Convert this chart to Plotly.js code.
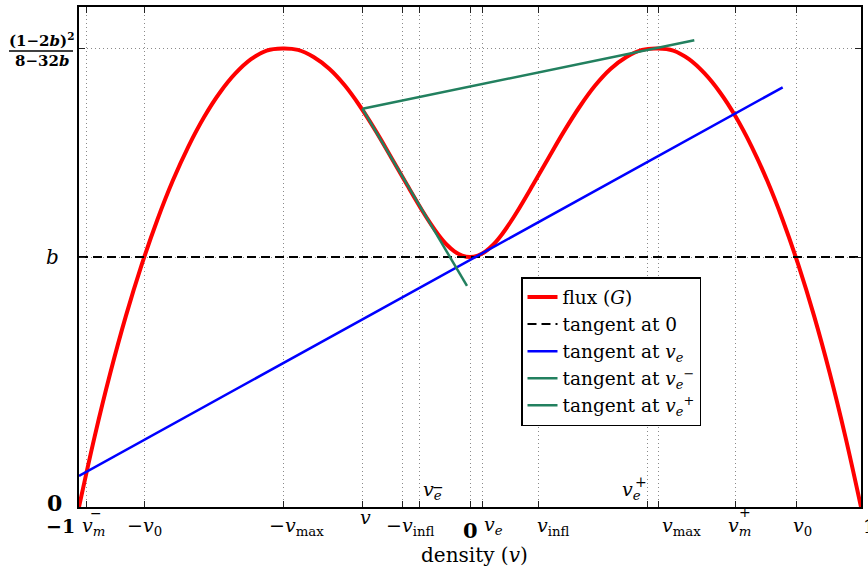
<!DOCTYPE html>
<html>
<head>
<meta charset="utf-8">
<script src="https://cdn.plot.ly/plotly-3.0.1.min.js"></script>
<style>html,body{margin:0;padding:0;background:#fff;}#chart{width:868px;height:568px;}</style>
</head>
<body>
<div id="chart"></div>
<script>
// ---- data ----
const fluxV = [-1, -0.96, -0.92, -0.88, -0.84, -0.80, -0.76, -0.72, -0.68, -0.64, -0.60, -0.56, -0.52,
  -0.48, -0.44, -0.40, -0.36, -0.32, -0.28, -0.24, -0.20, -0.16, -0.12, -0.10, -0.08, -0.06, -0.04, -0.02,
  0, 0.02, 0.04, 0.06, 0.08, 0.10, 0.12, 0.16, 0.20, 0.24, 0.28, 0.32, 0.36, 0.40, 0.44,
  0.48, 0.52, 0.56, 0.60, 0.64, 0.68, 0.72, 0.76, 0.80, 0.84, 0.88, 0.92, 0.96, 1];
const fluxG = [0, 0.0197, 0.0375, 0.0535, 0.0677, 0.0803, 0.0914, 0.1010, 0.1092, 0.1160, 0.1214, 0.1254, 0.1278,
  0.1284, 0.1280, 0.1260, 0.1227, 0.1180, 0.1120, 0.1051, 0.0976, 0.0900, 0.0826, 0.0792, 0.0761, 0.0735, 0.0716, 0.0704,
  0.0700, 0.0704, 0.0716, 0.0735, 0.0761, 0.0792, 0.0826, 0.0900, 0.0976, 0.1051, 0.1120, 0.1180, 0.1227, 0.1260, 0.1280,
  0.1284, 0.1278, 0.1254, 0.1214, 0.1160, 0.1092, 0.1010, 0.0914, 0.0803, 0.0677, 0.0535, 0.0375, 0.0197, 0];
const tan0V = [-1, 1], tan0G = [0.07, 0.07];
const tanEV = [-1, 0.7997], tanEG = [0.0087, 0.1175];
const tanEmV = [-0.275, -0.0077], tanEmG = [0.1115, 0.0619];
const tanEpV = [-0.275, 0.5737], tanEpG = [0.1115, 0.1307];

const xTickVals = [-0.98, -0.833, -0.478, -0.275, -0.173, -0.13, 0, 0.031, 0.175, 0.455, 0.481, 0.678, 0.836];
const xLabelVals = [-1, -0.98, -0.833, -0.478, -0.275, -0.173, 0, 0.031, 0.175, 0.481, 0.678, 0.836, 1];
const xLabelTexts = ['<b>−1</b>', '<i>v</i><sub><i>m</i></sub>', '−<i>v</i><sub>0</sub>',
  '−<i>v</i><sub>max</sub>', '<i>v</i>', '−<i>v</i><sub>infl</sub>', '<b>0</b>', '<i>v<sub>e</sub></i>',
  '<i>v</i><sub>infl</sub>', '<i>v</i><sub>max</sub>', '<i>v</i><sub><i>m</i></sub>', '<i>v</i><sub>0</sub>', '<b>1</b>'];
const xLabelSups = ['', '−', '', '', '', '', '', '', '', '', '+', '', ''];
const xUpperVals = [-0.13, 0.455];
const xUpperTexts = ['<i>v</i><sub><i>e</i></sub>', '<i>v</i><sub><i>e</i></sub>'];
const xUpperSups = ['−', '+'];
const yTickVals = [0, 0.07, 0.1284];
const yLabelTexts = ['<b>0</b>', '<i>b</i>'];
const fracNum = '<b>(1−2<i>b</i>)<sup>2</sup></b>';
const fracDen = '<b>8−32<i>b</i></b>';
const xTitle = 'density (<i>v</i>)';
const legendNames = ['flux (<i>G</i>)', 'tangent at 0', 'tangent at <i>v<sub>e</sub></i>',
  'tangent at <i>v</i><sub><i>e</i></sub><sup>−</sup>', 'tangent at <i>v</i><sub><i>e</i></sub><sup>+</sup>'];

// ---- styling ----
const FONT = 'DejaVu Serif';
const green = '#22805f';
const L = 79, T = 7, W = 782, H = 500;
const pxX = p => (p - L) / W;
const pxY = p => (T + H - p) / H;

const traces = [
  {x: fluxV, y: fluxG, mode: 'lines', name: legendNames[0], line: {color: '#ff0000', width: 4, shape: 'spline', smoothing: 1}},
  {x: tan0V, y: tan0G, mode: 'lines', name: legendNames[1], line: {color: '#000', width: 2, dash: '9px,5px'}},
  {x: tanEV, y: tanEG, mode: 'lines', name: legendNames[2], line: {color: '#0000ff', width: 2.5}},
  {x: tanEmV, y: tanEmG, mode: 'lines', name: legendNames[3], line: {color: green, width: 2.5}},
  {x: tanEpV, y: tanEpG, mode: 'lines', name: legendNames[4], line: {color: green, width: 2.5}}
];

// per-label placement (style)
const lowStyle = [
  {xa: 'right', dx: -2, dy: -6, size: 19},
  {xa: 'left', dx: -7, dy: -5, size: 19, sdx: 9, sdy: -6},
  {xa: 'center', dx: 0, dy: -5, size: 19},
  {xa: 'center', dx: 13, dy: -5, size: 19},
  {xa: 'center', dx: 3, dy: 3, size: 19},
  {xa: 'center', dx: 8, dy: -5, size: 19},
  {xa: 'center', dx: 0, dy: -9, size: 21},
  {xa: 'center', dx: 11, dy: -4, size: 19},
  {xa: 'center', dx: 15, dy: -5, size: 19},
  {xa: 'center', dx: 23, dy: -5, size: 19},
  {xa: 'center', dx: 4, dy: -5, size: 19, sdx: 10, sdy: -5},
  {xa: 'center', dx: 6, dy: -5, size: 19},
  {xa: 'left', dx: 0, dy: -6, size: 19}
];
const annotations = [];
const txt = (o) => Object.assign({showarrow: false, font: {family: FONT, size: 19, color: '#000'}}, o);
xLabelVals.forEach((v, i) => {
  const s = lowStyle[i];
  annotations.push(txt({x: v, xref: 'x', y: 0, yref: 'paper', text: xLabelTexts[i],
    xanchor: s.xa, yanchor: 'top', xshift: s.dx, yshift: s.dy, font: {family: FONT, size: s.size, color: '#000'}}));
  if (xLabelSups[i]) {
    annotations.push(txt({x: v, xref: 'x', y: 0, yref: 'paper', text: xLabelSups[i],
      xanchor: 'center', yanchor: 'middle', xshift: s.sdx, yshift: s.sdy, font: {family: FONT, size: 14, color: '#000'}}));
  }
});
const upStyle = [{xa: 'left', dx: 2, sdx: 19, sdy: 20}, {xa: 'right', dx: -5, sdx: -7, sdy: 25}];
xUpperVals.forEach((v, i) => {
  const s = upStyle[i];
  annotations.push(txt({x: v, xref: 'x', y: 0, yref: 'paper', text: xUpperTexts[i],
    xanchor: s.xa, yanchor: 'bottom', xshift: s.dx, yshift: 2}));
  annotations.push(txt({x: v, xref: 'x', y: 0, yref: 'paper', text: xUpperSups[i],
    xanchor: 'center', yanchor: 'middle', xshift: s.sdx, yshift: s.sdy, font: {family: FONT, size: 14, color: '#000'}}));
});
annotations.push(txt({x: 0, xref: 'paper', y: yTickVals[0], yref: 'y', text: yLabelTexts[0],
  xanchor: 'right', yanchor: 'middle', xshift: -15, yshift: 4, font: {family: FONT, size: 22, color: '#000'}}));
annotations.push(txt({x: 0, xref: 'paper', y: yTickVals[1], yref: 'y', text: yLabelTexts[1],
  xanchor: 'right', yanchor: 'middle', xshift: -18, yshift: 0, font: {family: FONT, size: 20, color: '#000'}}));
annotations.push(txt({x: pxX(41), xref: 'paper', y: pxY(40), yref: 'paper', text: fracNum,
  xanchor: 'center', yanchor: 'middle', font: {family: FONT, size: 15, color: '#000'}}));
annotations.push(txt({x: pxX(42), xref: 'paper', y: pxY(61), yref: 'paper', text: fracDen,
  xanchor: 'center', yanchor: 'middle', font: {family: FONT, size: 15, color: '#000'}}));
annotations.push(txt({x: 0.5, xref: 'paper', y: pxY(555), yref: 'paper', text: xTitle,
  xanchor: 'center', yanchor: 'middle', xshift: 4, font: {family: FONT, size: 20, color: '#000'}}));

const layout = {
  width: 868, height: 568,
  margin: {l: L, r: 868 - L - W, t: T, b: 568 - T - H},
  paper_bgcolor: '#fff', plot_bgcolor: '#fff',
  font: {family: FONT, size: 19, color: '#000'},
  showlegend: true,
  legend: {x: pxX(521), y: pxY(277), xanchor: 'left', yanchor: 'top', bgcolor: '#fff',
    bordercolor: '#000', borderwidth: 1.5, font: {family: FONT, size: 18.5, color: '#000'},
    tracegroupgap: 0, itemwidth: 30},
  xaxis: {range: [-1, 1], tickmode: 'array', tickvals: xTickVals, showticklabels: false,
    ticks: 'inside', ticklen: 6, tickwidth: 1, tickcolor: '#222',
    showgrid: true, gridcolor: '#8a8a8a', gridwidth: 1, griddash: '1px,3px',
    showline: true, linecolor: '#000', linewidth: 2, mirror: 'ticks', zeroline: false, fixedrange: true},
  yaxis: {range: [0, 0.14], tickmode: 'array', tickvals: yTickVals, showticklabels: false,
    ticks: 'inside', ticklen: 6, tickwidth: 1, tickcolor: '#222',
    showgrid: true, gridcolor: '#8a8a8a', gridwidth: 1, griddash: '1px,3px',
    showline: true, linecolor: '#000', linewidth: 2, mirror: 'ticks', zeroline: false, fixedrange: true},
  shapes: [{type: 'line', xref: 'paper', yref: 'paper', x0: pxX(9), x1: pxX(73), y0: pxY(51), y1: pxY(51),
    line: {color: '#000', width: 1.5}}],
  annotations: annotations
};

Plotly.newPlot('chart', traces, layout, {displayModeBar: false, staticPlot: true});
</script>
</body>
</html>
